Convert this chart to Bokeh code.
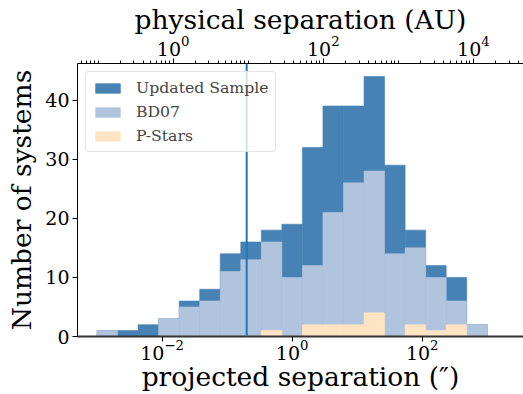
import numpy as np
from bokeh.plotting import figure
from bokeh.models import (Range1d, LogAxis, LogScale, FixedTicker, Span,
                          Legend, LegendItem, ColumnDataSource)
from bokeh.embed import file_html
from bokeh.resources import INLINE

# ---- data ----
bin_edges = np.logspace(-3, 3, 20)  # 19 log-spaced bins, arcsec
updated_counts = [1, 1, 2, 3, 6, 8, 14, 16, 18, 19, 32, 39, 39, 44, 29, 18, 12, 10, 2]
bd07_counts = [1, 0, 0, 3, 5, 6, 11, 13, 16, 10, 12, 21, 26, 28, 14, 15, 10, 6, 2]
pstars_counts = [0, 0, 0, 0, 0, 0, 0, 0, 1, 0, 2, 2, 2, 4, 0, 2, 1, 2, 0]
series_labels = ["Updated Sample", "BD07", "P-Stars"]
series_colors = ["#4682B4", "#B0C4DE", "#FFE4C4"]
bottom_ticks = [1e-2, 1e0, 1e2]
top_ticks = [1e0, 1e2, 1e4]
y_ticks = [0, 10, 20, 30, 40]
cut_arcsec = 0.2

FONT = "DejaVu Serif"

p = figure(width=523, height=394, x_axis_type="log",
           x_range=Range1d(10 ** -3.3, 10 ** 3.557),
           y_range=Range1d(0, 46.2),
           output_backend="svg", toolbar_location=None,
           min_border_left=77, min_border_right=0,
           min_border_top=62, min_border_bottom=58)
p.outline_line_color = None
p.xgrid.visible = False
p.ygrid.visible = False
p.background_fill_color = "white"
p.border_fill_color = "white"

renderers = []
for counts, color in zip([updated_counts, bd07_counts, pstars_counts], series_colors):
    src = ColumnDataSource(dict(left=bin_edges[:-1], right=bin_edges[1:],
                                top=counts, bottom=[0] * len(counts)))
    r = p.quad(left="left", right="right", top="top", bottom="bottom", source=src,
               fill_color=color, line_color=color, line_width=0.6)
    renderers.append(r)

# bottom axis
xa = p.xaxis[0]
xa.ticker = FixedTicker(ticks=bottom_ticks, minor_ticks=[])
xa.axis_label = "projected separation (\u2033)"
ya = p.yaxis[0]
ya.ticker = FixedTicker(ticks=y_ticks, minor_ticks=[])
ya.axis_label = "Number of systems"

for ax in (xa, ya):
    ax.axis_label_text_font = FONT
    ax.axis_label_text_font_size = "26.5px"
    ax.axis_label_text_font_style = "normal"
    ax.axis_label_text_color = "black"
    ax.major_label_text_font = FONT
    ax.major_label_text_font_size = "19px"
    ax.major_label_text_color = "black"
    ax.major_tick_out = 5
    ax.major_tick_in = 0
    ax.minor_tick_out = 0
    ax.minor_tick_in = 0
    ax.major_tick_line_color = "black"
    ax.axis_line_color = "black"

ya.major_label_standoff = 3
ya.axis_label_standoff = 5
xa.major_label_standoff = -2
xa.axis_label_standoff = -2
xa.axis_line_color = "#333333"
xa.axis_line_width = 2

# top axis (physical separation)
p.extra_x_ranges = {"top": Range1d(10 ** -1.275, 10 ** 4.668)}
p.extra_x_scales = {"top": LogScale()}
minor_top = [m * 10.0 ** n for n in range(-2, 5) for m in range(1, 10)
             if not (m == 1 and n in (0, 2, 4))]
ta = LogAxis(x_range_name="top",
             ticker=FixedTicker(ticks=top_ticks, minor_ticks=minor_top),
             axis_label="physical separation (AU)")
ta.axis_label_text_font = FONT
ta.axis_label_text_font_size = "26.5px"
ta.axis_label_text_font_style = "normal"
ta.axis_label_text_color = "black"
ta.major_label_text_font = FONT
ta.major_label_text_font_size = "19px"
ta.major_label_text_color = "black"
ta.major_tick_out = 5
ta.major_tick_in = 0
ta.minor_tick_out = 3
ta.minor_tick_in = 0
ta.major_label_standoff = 3
ta.axis_label_standoff = -2
ta.axis_line_color = "black"
p.add_layout(ta, "above")

p.add_layout(Span(location=cut_arcsec, dimension="height",
                  line_color="#1f77b4", line_width=2))

legend = Legend(items=[LegendItem(label=l, renderers=[r])
                       for l, r in zip(series_labels, renderers)],
                location="top_left")
legend.label_text_font = FONT
legend.label_text_font_size = "15.7px"
legend.glyph_width = 31
legend.glyph_height = 12
legend.label_height = 18
legend.spacing = 5
legend.padding = 6
legend.margin = 8
legend.label_standoff = 13
legend.border_line_color = "#cccccc"
legend.border_line_width = 1
legend.background_fill_alpha = 0.8
if "border_radius" in legend.properties():
    legend.border_radius = 4
p.add_layout(legend)

open("out.html", "w").write(file_html(p, INLINE))
